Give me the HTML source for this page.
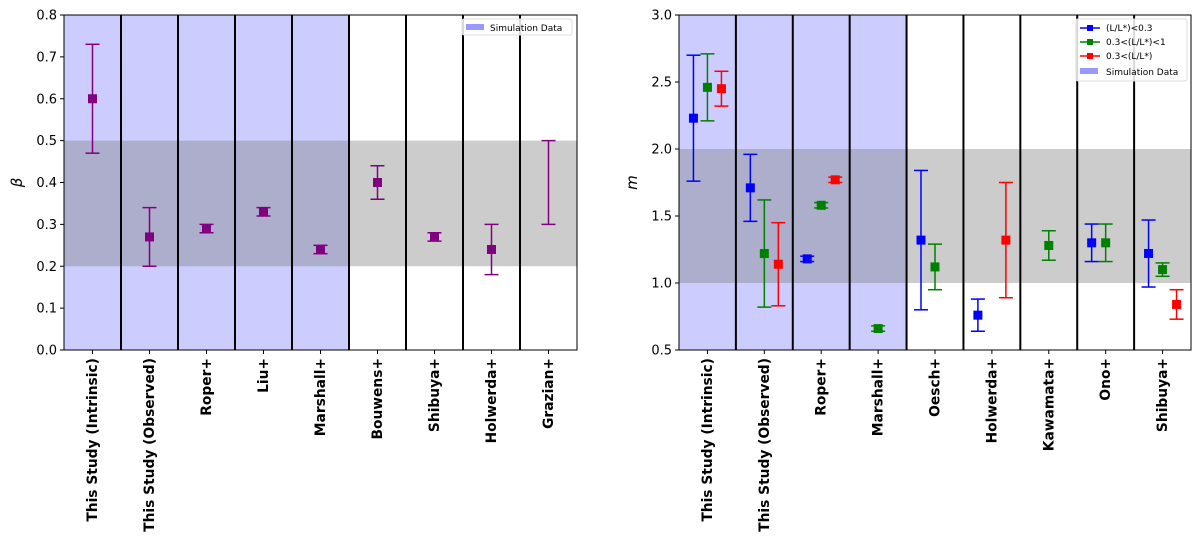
<!DOCTYPE html>
<html><head><meta charset="utf-8"><style>
body{margin:0;background:#fff;}
svg{display:block;font-family:"DejaVu Sans","Liberation Sans",sans-serif;}
</style></head><body>
<svg id="fig" width="1200" height="539" xmlns="http://www.w3.org/2000/svg"></svg>
<script>
const leftCats=["This Study (Intrinsic)","This Study (Observed)","Roper+","Liu+","Marshall+","Bouwens+","Shibuya+","Holwerda+","Grazian+"];
const leftVal=[0.6,0.27,0.29,0.33,0.24,0.4,0.27,0.24,null];
const leftLo=[0.47,0.2,0.28,0.32,0.23,0.36,0.26,0.18,0.3];
const leftHi=[0.73,0.34,0.3,0.34,0.25,0.44,0.28,0.30,0.5];
const leftTicks=[0,0.1,0.2,0.3,0.4,0.5,0.6,0.7,0.8];
const rightCats=["This Study (Intrinsic)","This Study (Observed)","Roper+","Marshall+","Oesch+","Holwerda+","Kawamata+","Ono+","Shibuya+"];
const blueVal=[2.23,1.71,1.18,null,1.32,0.76,null,1.30,1.22];
const blueLo=[1.76,1.46,1.16,null,0.80,0.64,null,1.16,0.97];
const blueHi=[2.70,1.96,1.20,null,1.84,0.88,null,1.44,1.47];
const greenVal=[2.46,1.22,1.58,0.66,1.12,null,1.28,1.30,1.10];
const greenLo=[2.21,0.82,1.56,0.64,0.95,null,1.17,1.16,1.05];
const greenHi=[2.71,1.62,1.60,0.68,1.29,null,1.39,1.44,1.15];
const redVal=[2.45,1.14,1.77,null,null,1.32,null,null,0.84];
const redLo=[2.32,0.83,1.75,null,null,0.89,null,null,0.73];
const redHi=[2.58,1.45,1.79,null,null,1.75,null,null,0.95];
const rightTicks=[0.5,1.0,1.5,2.0,2.5,3.0];

const NS="http://www.w3.org/2000/svg";
const svg=document.getElementById('fig');
function mk(tag,attrs,parent,text){const e=document.createElementNS(NS,tag);for(const k in attrs)e.setAttribute(k,attrs[k]);if(text!=null)e.textContent=text;(parent||svg).appendChild(e);return e;}

function panel(o){
  const g=mk('g',{});
  
  
  const x0=o.x0,x1=o.x1,y0=15,y1=350;
  const n=o.cats.length,w=(x1-x0)/n;
  const yS=v=>y1-(v-o.ymin)/(o.ymax-o.ymin)*(y1-y0);
  const xC=i=>x0+w*(i+0.5);
  const sim=mk('rect',{x:x0,y:y0,width:w*o.simN,height:y1-y0,fill:'#ccccff'},g);
  
  
  const band=mk('rect',{x:x0,y:yS(o.bandHi),width:x1-x0,height:yS(o.bandLo)-yS(o.bandHi),fill:'#808080','fill-opacity':0.4},g);
  
  
  for(let i=1;i<n;i++){const l=mk('line',{x1:x0+w*i,x2:x0+w*i,y1:y0,y2:y1,stroke:'#000','stroke-width':2},g);
    
    }
  o.series.forEach(s=>{
    s.val.forEach((v,i)=>{
      if(s.lo[i]==null)return;
      const cx=xC(i)+s.off;
      const eg=mk('g',{},g);
      
      
      const a=yS(s.hi[i]),b=yS(s.lo[i]);
      mk('line',{x1:cx,x2:cx,y1:a,y2:b,stroke:s.color,'stroke-width':1.5},eg);
      mk('line',{x1:cx-7,x2:cx+7,y1:a,y2:a,stroke:s.color,'stroke-width':1.5},eg);
      mk('line',{x1:cx-7,x2:cx+7,y1:b,y2:b,stroke:s.color,'stroke-width':1.5},eg);
      if(v!=null)mk('rect',{x:cx-4.5,y:yS(v)-4.5,width:9,height:9,fill:s.color},eg);
    });
  });
  const fr=mk('rect',{x:x0,y:y0,width:x1-x0,height:y1-y0,fill:'none',stroke:'#000','stroke-width':1},g);
  
  
  o.ticks.forEach(t=>{
    const y=yS(t);
    mk('line',{x1:x0-4,x2:x0,y1:y,y2:y,stroke:'#000'},g);
    const tx=mk('text',{x:x0-7,y:y+4.5,'text-anchor':'end','font-size':13},g,t.toFixed(1));
    
    
  });
  o.cats.forEach((c,i)=>{
    const x=xC(i);
    mk('line',{x1:x,x2:x,y1:y1,y2:y1+4,stroke:'#000'},g);
    const tx=mk('text',{x:0,y:0,transform:`translate(${x+4.5},${y1+8}) rotate(-90)`,'text-anchor':'end','font-size':13.8,'font-weight':'bold'},g,c);
    
    
  });
  const yl=mk('text',{x:0,y:0,transform:`translate(${o.ylx},${(y0+y1)/2}) rotate(-90)`,'text-anchor':'middle','font-size':15,'font-style':'italic'},g,o.ylabel);
  
  
  return g;
}

panel({name:'beta-chart',x0:64,x1:577,ymin:0,ymax:0.8,cats:leftCats,simN:5,bandLo:0.2,bandHi:0.5,ticks:leftTicks,ylabel:'β',ylx:22,
  series:[{key:'purple',color:'#800080',off:0,val:leftVal,lo:leftLo,hi:leftHi}]});
panel({name:'m-chart',x0:679,x1:1191,ymin:0.5,ymax:3.0,cats:rightCats,simN:4,bandLo:1.0,bandHi:2.0,ticks:rightTicks,ylabel:'m',ylx:637,
  series:[{key:'blue',color:'#0000ff',off:-14,val:blueVal,lo:blueLo,hi:blueHi},
          {key:'green',color:'#008000',off:0,val:greenVal,lo:greenLo,hi:greenHi},
          {key:'red',color:'#ff0000',off:14,val:redVal,lo:redLo,hi:redHi}]});

const lg1=mk('g',{});


mk('rect',{x:462,y:19,width:110,height:16,fill:'#fff','fill-opacity':0.85,stroke:'#ddd',rx:2},lg1);
mk('rect',{x:466,y:24,width:18,height:6,fill:'#9999ff'},lg1);
mk('text',{x:490,y:31,'font-size':9},lg1,'Simulation Data');
const lg2=mk('g',{});


mk('rect',{x:1076,y:19,width:111,height:62,fill:'#fff','fill-opacity':0.85,stroke:'#ddd',rx:2},lg2);
[['#0000ff','(L/L*)<0.3'],['#008000','0.3<(L/L*)<1'],['#ff0000','0.3<(L/L*)']].forEach((e,i)=>{
  const y=28+i*14;
  const eg=mk('g',{},lg2);
  
  
  mk('line',{x1:1080,x2:1100,y1:y,y2:y,stroke:e[0],'stroke-width':1.5},eg);
  mk('rect',{x:1087,y:y-3,width:6,height:6,fill:e[0]},eg);
  mk('text',{x:1106,y:y+3,'font-size':9},eg,e[1]);
});
mk('rect',{x:1080,y:68,width:18,height:6,fill:'#9999ff'},lg2);
mk('text',{x:1106,y:75,'font-size':9},lg2,'Simulation Data');
</script>
</body></html>
